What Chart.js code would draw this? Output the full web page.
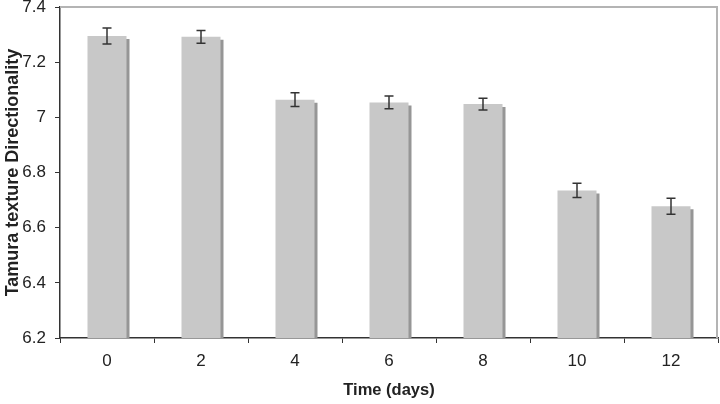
<!DOCTYPE html>
<html>
<head>
<meta charset="utf-8">
<script src="https://cdn.jsdelivr.net/npm/chart.js@4/dist/chart.umd.min.js"></script>
<style>
html,body{margin:0;padding:0;background:#fff;}
#wrap{width:720px;height:404px;position:relative;}
</style>
</head>
<body>
<div id="wrap"><canvas id="c" width="720" height="404"></canvas></div>
<script>
const categories = ["0", "2", "4", "6", "8", "10", "12"];
const values = [7.295, 7.292, 7.064, 7.054, 7.048, 6.735, 6.678];
const errors = [0.029, 0.023, 0.025, 0.023, 0.021, 0.026, 0.029];
const yTicks = [6.2, 6.4, 6.6, 6.8, 7, 7.2, 7.4];

const FONT = "'Liberation Sans', Arial, sans-serif";

const shadowPlugin = {
  id: 'barShadow',
  beforeDatasetDraw(chart) {
    const ctx = chart.ctx;
    ctx.save();
    ctx.shadowColor = '#969696';
    ctx.shadowOffsetX = 3;
    ctx.shadowOffsetY = 3;
    ctx.shadowBlur = 0;
  },
  afterDatasetDraw(chart) {
    chart.ctx.restore();
  }
};

const errorPlugin = {
  id: 'errorBars',
  afterDatasetsDraw(chart) {
    const ctx = chart.ctx;
    const meta = chart.getDatasetMeta(0);
    const y = chart.scales.y;
    ctx.save();
    ctx.strokeStyle = '#333';
    ctx.lineWidth = 1.5;
    meta.data.forEach((bar, i) => {
      const x = bar.x;
      const top = y.getPixelForValue(values[i] + errors[i]);
      const bot = y.getPixelForValue(values[i] - errors[i]);
      ctx.beginPath();
      ctx.moveTo(x, top); ctx.lineTo(x, bot);
      ctx.moveTo(x - 4.5, top); ctx.lineTo(x + 4.5, top);
      ctx.moveTo(x - 4.5, bot); ctx.lineTo(x + 4.5, bot);
      ctx.stroke();
    });
    ctx.restore();
  }
};

const framePlugin = {
  id: 'frame',
  beforeDatasetsDraw(chart) {
    const a = chart.chartArea;
    const ctx = chart.ctx;
    ctx.save();
    ctx.strokeStyle = '#b4b4b4';
    ctx.lineWidth = 2;
    ctx.beginPath();
    ctx.moveTo(a.left, a.top);
    ctx.lineTo(a.right - 1, a.top);
    ctx.lineTo(a.right - 1, a.bottom);
    ctx.stroke();
    ctx.restore();
  }
};

new Chart(document.getElementById('c'), {
  type: 'bar',
  data: {
    labels: categories,
    datasets: [{
      data: values,
      backgroundColor: '#c8c8c8',
      borderWidth: 0,
      barPercentage: 0.415,
      categoryPercentage: 1.0
    }]
  },
  options: {
    responsive: false,
    animation: false,
    events: [],
    layout: { padding: { top: 7, right: 2, left: 0, bottom: 0 } },
    plugins: { legend: { display: false }, tooltip: { enabled: false } },
    scales: {
      x: {
        afterFit(s) { s.height = 66; s.paddingLeft = 0; s.paddingRight = 0; },
        grid: { display: true, drawOnChartArea: false, drawTicks: true, tickLength: 5, color: '#333', offset: true },
        border: { display: true, color: '#333', width: 1.5 },
        ticks: { color: '#222', font: { family: FONT, size: 17 }, padding: 8 },
        title: { display: true, text: 'Time (days)', color: '#222', font: { family: FONT, size: 16.5, weight: 'bold' }, padding: { top: 6 } }
      },
      y: {
        min: 6.2, max: 7.4,
        afterFit(s) { s.width = 60; s.paddingTop = 0; s.paddingBottom = 0; },
        afterBuildTicks(s) { s.ticks = yTicks.map(v => ({ value: v })); },
        grid: { display: true, drawOnChartArea: false, drawTicks: true, tickLength: 5, color: '#333' },
        border: { display: true, color: '#333', width: 1.5 },
        ticks: { color: '#222', font: { family: FONT, size: 17 }, padding: 9,
          callback: (v) => String(Math.round(v * 10) / 10) },
        title: { display: true, text: 'Tamura texture Directionality', color: '#222', font: { family: FONT, size: 18, weight: 'bold' }, padding: { top: 2, bottom: 0 } }
      }
    }
  },
  plugins: [framePlugin, shadowPlugin, errorPlugin]
});
</script>
</body>
</html>
